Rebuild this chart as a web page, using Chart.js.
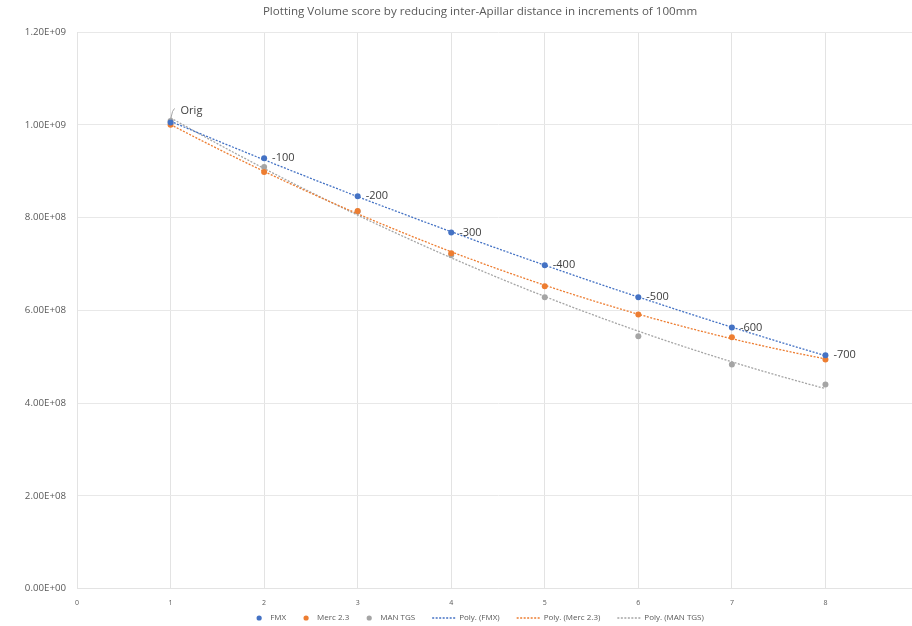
<!DOCTYPE html>
<html><head><meta charset="utf-8">
<script src="https://cdn.jsdelivr.net/npm/chart.js@4/dist/chart.umd.min.js"></script>
<style>
html,body{margin:0;padding:0;background:#fff;overflow:hidden;width:912px;height:626px}
#wrap{position:absolute;left:0;top:0;width:960px;height:626px}
</style></head>
<body><div id="wrap"><canvas id="c" width="960" height="626"></canvas></div>
<script>
const xValues = [1, 2, 3, 4, 5, 6, 7, 8];
const pointLabels = ["Orig", "-100", "-200", "-300", "-400", "-500", "-600", "-700"];
const fmx = [1.005e9, 0.928e9, 0.846e9, 0.768e9, 0.697e9, 0.628e9, 0.563e9, 0.503e9];
const merc = [1.000e9, 0.898e9, 0.814e9, 0.723e9, 0.652e9, 0.591e9, 0.542e9, 0.494e9];
const manTgs = [1.008e9, 0.909e9, 0.813e9, 0.719e9, 0.628e9, 0.544e9, 0.483e9, 0.440e9];
const seriesNames = ["FMX", "Merc 2.3", "MAN TGS"];
const colors = ["#4472C4", "#ED7D31", "#A5A5A5"];
const chartTitle = 'Plotting Volume score by reducing inter-Apillar distance in increments of 100mm';
const FONT = '"Open Sans", "Liberation Sans", sans-serif';

// Excel-style order-2 polynomial trendline (least squares) computed from the data
function polyFit(xs, ys) {
  let n = xs.length, s = [0,0,0,0,0], t = [0,0,0];
  for (let i = 0; i < n; i++) {
    let x = xs[i], y = ys[i];
    for (let k = 0; k <= 4; k++) s[k] += Math.pow(x, k);
    for (let k = 0; k <= 2; k++) t[k] += y * Math.pow(x, k);
  }
  const A = [[s[0], s[1], s[2], t[0]], [s[1], s[2], s[3], t[1]], [s[2], s[3], s[4], t[2]]];
  for (let i = 0; i < 3; i++) {
    for (let j = i + 1; j < 3; j++) {
      const f = A[j][i] / A[i][i];
      for (let k = i; k < 4; k++) A[j][k] -= f * A[i][k];
    }
  }
  const c = [0,0,0];
  for (let i = 2; i >= 0; i--) {
    let v = A[i][3];
    for (let k = i + 1; k < 3; k++) v -= A[i][k] * c[k];
    c[i] = v / A[i][i];
  }
  const pts = [];
  for (let x = xs[0]; x <= xs[xs.length - 1] + 1e-9; x += 0.1) {
    pts.push({x: x, y: c[0] + c[1] * x + c[2] * x * x});
  }
  return pts;
}

const raw = [fmx, merc, manTgs];
const datasets = [];
raw.forEach((arr, i) => {
  datasets.push({
    label: seriesNames[i], type: 'scatter',
    data: xValues.map((x, j) => ({x: x, y: arr[j]})),
    backgroundColor: colors[i], borderColor: colors[i], borderWidth: 0,
    pointRadius: 3, pointHoverRadius: 3, showLine: false, order: 1, pointStyle: 'circle'
  });
});
raw.forEach((arr, i) => {
  datasets.push({
    label: 'Poly. (' + seriesNames[i] + ')', type: 'line',
    data: polyFit(xValues, arr),
    borderColor: colors[i], backgroundColor: colors[i],
    borderWidth: 1.3, borderDash: [2, 1.5], pointRadius: 0, pointHoverRadius: 0,
    fill: false, order: 2, tension: 0, isTrend: true
  });
});

function sci(v) {
  if (v === 0) return '0.00E+00';
  const e = Math.floor(Math.log10(Math.abs(v)) + 1e-9);
  const m = v / Math.pow(10, e);
  return m.toFixed(2) + 'E' + (e >= 0 ? '+' : '-') + String(Math.abs(e)).padStart(2, '0');
}

const labelPlugin = {
  id: 'pointLabels',
  afterDatasetsDraw(chart) {
    const ctx = chart.ctx;
    const meta = chart.getDatasetMeta(0);
    ctx.save();
    ctx.font = '11px ' + FONT;
    ctx.fillStyle = '#404040';
    ctx.textBaseline = 'middle';
    ctx.textAlign = 'left';
    meta.data.forEach((pt, i) => {
      if (i === 0) {
        ctx.strokeStyle = '#A5A5A5';
        ctx.lineWidth = 1;
        ctx.beginPath();
        ctx.moveTo(pt.x, pt.y - 3);
        ctx.lineTo(pt.x + 2, pt.y - 11);
        ctx.lineTo(pt.x + 4, pt.y - 14);
        ctx.stroke();
        ctx.fillText(pointLabels[i], pt.x + 10, pt.y - 12);
      } else {
        ctx.fillText(pointLabels[i], pt.x + 8, pt.y);
      }
    });
    ctx.restore();
  }
};

const titleLegendPlugin = {
  id: 'titleLegend',
  afterDraw(chart) {
    const ctx = chart.ctx;
    const cx = chart.width / 2;
    ctx.save();
    // title
    ctx.font = '11.6px ' + FONT;
    ctx.fillStyle = '#595959';
    ctx.textAlign = 'center';
    ctx.textBaseline = 'middle';
    ctx.fillText(chartTitle, cx, 12);
    // legend
    ctx.font = '8px ' + FONT;
    ctx.textAlign = 'left';
    const y = 618;
    const items = chart.data.datasets.map(ds => {
      const isLine = !!ds.isTrend;
      const markerW = isLine ? 23 : 6;
      const gap = isLine ? 4 : 8;
      const tw = ctx.measureText(ds.label).width;
      return {ds, isLine, markerW, gap, tw, w: markerW + gap + tw};
    });
    const between = 17;
    const total = items.reduce((a, it) => a + it.w, 0) + between * (items.length - 1);
    let x = cx - total / 2;
    items.forEach(it => {
      if (it.isLine) {
        ctx.strokeStyle = it.ds.borderColor;
        ctx.lineWidth = 1.3;
        ctx.setLineDash([2, 1.5]);
        ctx.beginPath();
        ctx.moveTo(x, y);
        ctx.lineTo(x + it.markerW, y);
        ctx.stroke();
        ctx.setLineDash([]);
      } else {
        ctx.fillStyle = it.ds.backgroundColor;
        ctx.beginPath();
        ctx.arc(x + 3, y, 2.6, 0, Math.PI * 2);
        ctx.fill();
      }
      ctx.fillStyle = '#595959';
      ctx.fillText(it.ds.label, x + it.markerW + it.gap, y);
      x += it.w + between;
    });
    ctx.restore();
  }
};

new Chart(document.getElementById('c'), {
  type: 'scatter',
  data: {datasets: datasets},
  plugins: [labelPlugin, titleLegendPlugin],
  options: {
    responsive: false, animation: false,
    layout: {padding: {left: 15, right: 41, top: 32, bottom: 9}},
    plugins: {
      tooltip: {enabled: false},
      legend: {display: false},
      title: {display: false}
    },
    scales: {
      x: {
        type: 'linear', min: 0, max: 9,
        ticks: {stepSize: 1, color: '#595959', font: {size: 7, family: FONT}, padding: 10},
        grid: {color: '#e3e3e3', drawTicks: false},
        border: {color: '#e3e3e3'}
      },
      y: {
        min: 0, max: 1.2e9,
        afterFit(scale) { scale.width = 62; },
        ticks: {stepSize: 2e8, color: '#595959', font: {size: 9.7, family: FONT}, padding: 11,
          callback: v => sci(v)},
        grid: {color: '#e8e8e8', drawTicks: false},
        border: {color: '#e3e3e3'}
      }
    }
  }
});
</script></body></html>
